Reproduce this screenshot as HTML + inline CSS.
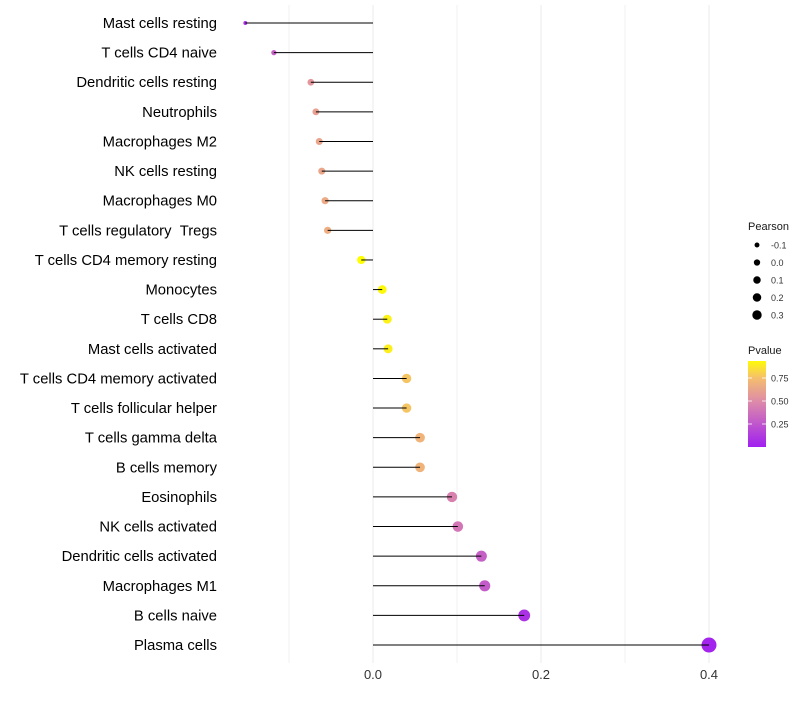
<!DOCTYPE html>
<html><head><meta charset="utf-8"><style>
body{margin:0;background:#fff;font-family:"Liberation Sans",sans-serif}
</style></head><body>
<svg id="chart" width="800" height="700" xmlns="http://www.w3.org/2000/svg" font-family="Liberation Sans, sans-serif"></svg>
<script>
const categories=["Mast cells resting","T cells CD4 naive","Dendritic cells resting","Neutrophils","Macrophages M2","NK cells resting","Macrophages M0","T cells regulatory\u00a0\u00a0Tregs","T cells CD4 memory resting","Monocytes","T cells CD8","Mast cells activated","T cells CD4 memory activated","T cells follicular helper","T cells gamma delta","B cells memory","Eosinophils","NK cells activated","Dendritic cells activated","Macrophages M1","B cells naive","Plasma cells"];
const pearson=[-0.152,-0.118,-0.074,-0.068,-0.064,-0.061,-0.057,-0.054,-0.014,0.011,0.017,0.018,0.040,0.040,0.056,0.056,0.094,0.101,0.129,0.133,0.180,0.400];
const pvalues=[0.08,0.3,0.55,0.6,0.62,0.63,0.65,0.67,0.95,0.93,0.91,0.9,0.77,0.77,0.7,0.7,0.45,0.4,0.3,0.28,0.08,0.02];
const xTicks=[0,0.2,0.4];
const xTickLabels=["0.0","0.2","0.4"];
const xMinor=[-0.1,0.1,0.3];
const sizeLegend=[-0.1,0,0.1,0.2,0.3];
const pTicks=[0.25,0.5,0.75];

const svg=document.getElementById('chart');
const NS="http://www.w3.org/2000/svg";
const x=v=>373+v*840;
const y=i=>23+i*29.62;
const r=v=>Math.sqrt(Math.max(1.5,4+95*(v+0.15)));
const rl=v=>Math.sqrt(Math.max(1,6+40*(v+0.1)));
const pY=p=>447-p*92;
function lerp(a,b,t){return a.map((c,i)=>Math.round(c+(b[i]-c)*t));}
function col(p){const s=[[0,[160,32,240]],[0.5,[222,140,168]],[0.75,[245,190,110]],[0.95,[255,255,0]]];
 p=Math.min(0.95,Math.max(0,p));
 for(let k=0;k<s.length-1;k++){if(p<=s[k+1][0]){const t=(p-s[k][0])/(s[k+1][0]-s[k][0]);const c=lerp(s[k][1],s[k+1][1],t);return `rgb(${c})`;}}
 return 'rgb(255,255,0)';}
function el(t,a,txt){const e=document.createElementNS(NS,t);for(const k in a)e.setAttribute(k,a[k]);if(txt!==undefined)e.textContent=txt;svg.appendChild(e);return e;}

xMinor.forEach(v=>{const g=el('line',{x1:x(v),x2:x(v),y1:5,y2:663,stroke:'#f2f2f2','stroke-width':1});

});
xTicks.forEach((v,i)=>{const g=el('line',{x1:x(v),x2:x(v),y1:5,y2:663,stroke:'#ebebeb','stroke-width':1});


const t=el('text',{x:x(v),y:679,'font-size':13,'text-anchor':'middle',fill:'#333'},xTickLabels[i]);

});

categories.forEach((c,i)=>{
 const t=el('text',{x:217,y:y(i)+5,'font-size':14.8,'text-anchor':'end',fill:'#000'},c);
 
 
 const d=el('circle',{cx:x(pearson[i]),cy:y(i),r:r(pearson[i]),fill:col(pvalues[i])});
 
 
 const l=el('line',{x1:x(0),x2:x(pearson[i]),y1:y(i),y2:y(i),stroke:'#000','stroke-width':1});
 
 
});

const st=el('text',{x:748,y:230,'font-size':11,fill:'#1a1a1a'},'Pearson');


sizeLegend.forEach((v,i)=>{const cy=245+i*17.5;
 const c=el('circle',{cx:757,cy:cy,r:rl(v),fill:'#000'});
 
 
 const t=el('text',{x:771,y:cy+3.5,'font-size':9,fill:'#333'},v.toFixed(1));
 
 });

const pt=el('text',{x:748,y:354,'font-size':11,fill:'#1a1a1a'},'Pvalue');


const defs=el('defs',{});
const lg=document.createElementNS(NS,'linearGradient');
lg.setAttribute('id','pg');lg.setAttribute('x1','0');lg.setAttribute('y1','1');lg.setAttribute('x2','0');lg.setAttribute('y2','0');
defs.appendChild(lg);
for(let k=0;k<=10;k++){const s=document.createElementNS(NS,'stop');s.setAttribute('offset',k/10);s.setAttribute('stop-color',col(k/10*0.935));lg.appendChild(s);}
const bar=el('rect',{x:748,y:361,width:18,height:86,fill:'url(#pg)'});


pTicks.forEach(p=>{
 const tl=el('line',{x1:748,x2:752,y1:pY(p),y2:pY(p),stroke:'#fff','stroke-width':0.8});
 
 
 const tl2=el('line',{x1:762,x2:766,y1:pY(p),y2:pY(p),stroke:'#fff','stroke-width':0.8});
 
 
 const t=el('text',{x:771,y:pY(p)+3.5,'font-size':9,fill:'#333'},p.toFixed(2));
 
 });
</script>
</body></html>
